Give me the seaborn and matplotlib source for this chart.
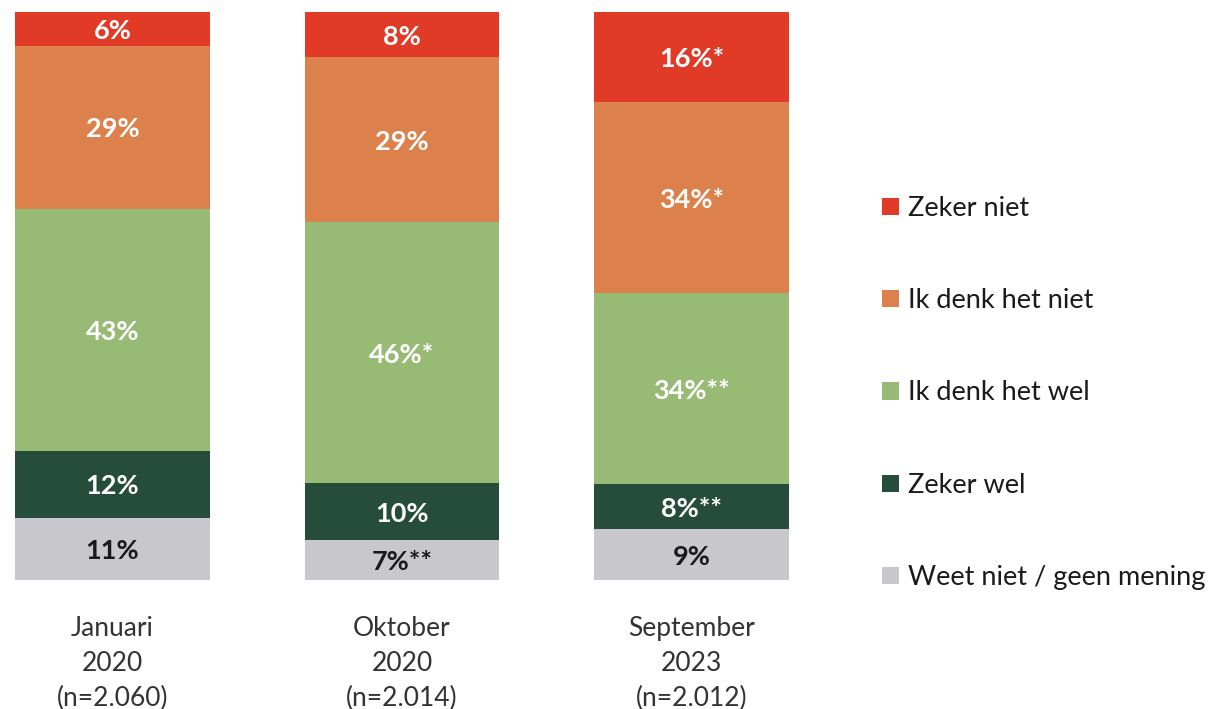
import matplotlib
matplotlib.use("Agg")
import matplotlib.pyplot as plt
from matplotlib.patches import Patch
import numpy as np
import pandas as pd
import seaborn as sns

# data (percentages as shown, bottom -> top)
periods = ["Januari\n2020\n(n=2.060)", "Oktober\n2020\n(n=2.014)", "September\n2023\n(n=2.012)"]
answers = ["Weet niet / geen mening", "Zeker wel", "Ik denk het wel", "Ik denk het niet", "Zeker niet"]
weet_niet = [11, 7, 9]
zeker_wel = [12, 10, 8]
denk_wel = [43, 46, 34]
denk_niet = [29, 29, 34]
zeker_niet = [6, 8, 16]
labels_weet_niet = ["11%", "7%**", "9%"]
labels_zeker_wel = ["12%", "10%", "8%**"]
labels_denk_wel = ["43%", "46%*", "34%**"]
labels_denk_niet = ["29%", "29%", "34%*"]
labels_zeker_niet = ["6%", "8%", "16%*"]

colors = ["#C8C7CC", "#264D3B", "#97BA74", "#DC814B", "#E13A26"]
text_colors = ["#1a1a1a", "white", "white", "white", "white"]

sns.set_theme(style="white")
plt.rcParams["font.family"] = ["Lato", "DejaVu Sans"]

vals = np.array([weet_niet, zeker_wel, denk_wel, denk_niet, zeker_niet], dtype=float)
labs = [labels_weet_niet, labels_zeker_wel, labels_denk_wel, labels_denk_niet, labels_zeker_niet]
# bars all drawn to full height -> scale each column to 100
shares = vals / vals.sum(axis=0) * 100
tops = np.cumsum(shares, axis=0)

fig = plt.figure(figsize=(12.3, 7.09), dpi=100)
ax = fig.add_axes([15 / 1230, 129 / 709, 774 / 1230, 568 / 709])

# stacked bars: draw cumulative heights from tallest to shortest
for i in range(len(answers) - 1, -1, -1):
    df = pd.DataFrame({"period": periods, "top": tops[i]})
    sns.barplot(data=df, x="period", y="top", color=colors[i], width=0.672,
                saturation=1, ax=ax, linewidth=0)

for i in range(len(answers)):
    for j in range(len(periods)):
        mid = tops[i][j] - shares[i][j] / 2
        ax.text(j, mid, labs[i][j], ha="center", va="center_baseline", color=text_colors[i],
                fontsize=19.5, fontweight="bold")

ax.set_xlim(-0.336, 2.336)
ax.set_ylim(0, 100)
ax.set_xlabel("")
ax.set_ylabel("")
ax.set_yticks([])
ax.tick_params(axis="x", length=0, pad=26, labelsize=19, labelcolor="#333333")
for lbl in ax.get_xticklabels():
    lbl.set_linespacing(1.5)
sns.despine(ax=ax, left=True, bottom=True)

handles = [Patch(facecolor=colors[i], edgecolor="none") for i in range(len(answers) - 1, -1, -1)]
fig.legend(handles, answers[::-1], loc="center left", bbox_to_anchor=(858 / 1230, 1 - 393 / 709),
           frameon=False, fontsize=19.5, labelspacing=2.48, handlelength=0.6, handleheight=0.6,
           handletextpad=0.35, labelcolor="#1a1a1a")

fig.savefig("out.png", dpi=100)
